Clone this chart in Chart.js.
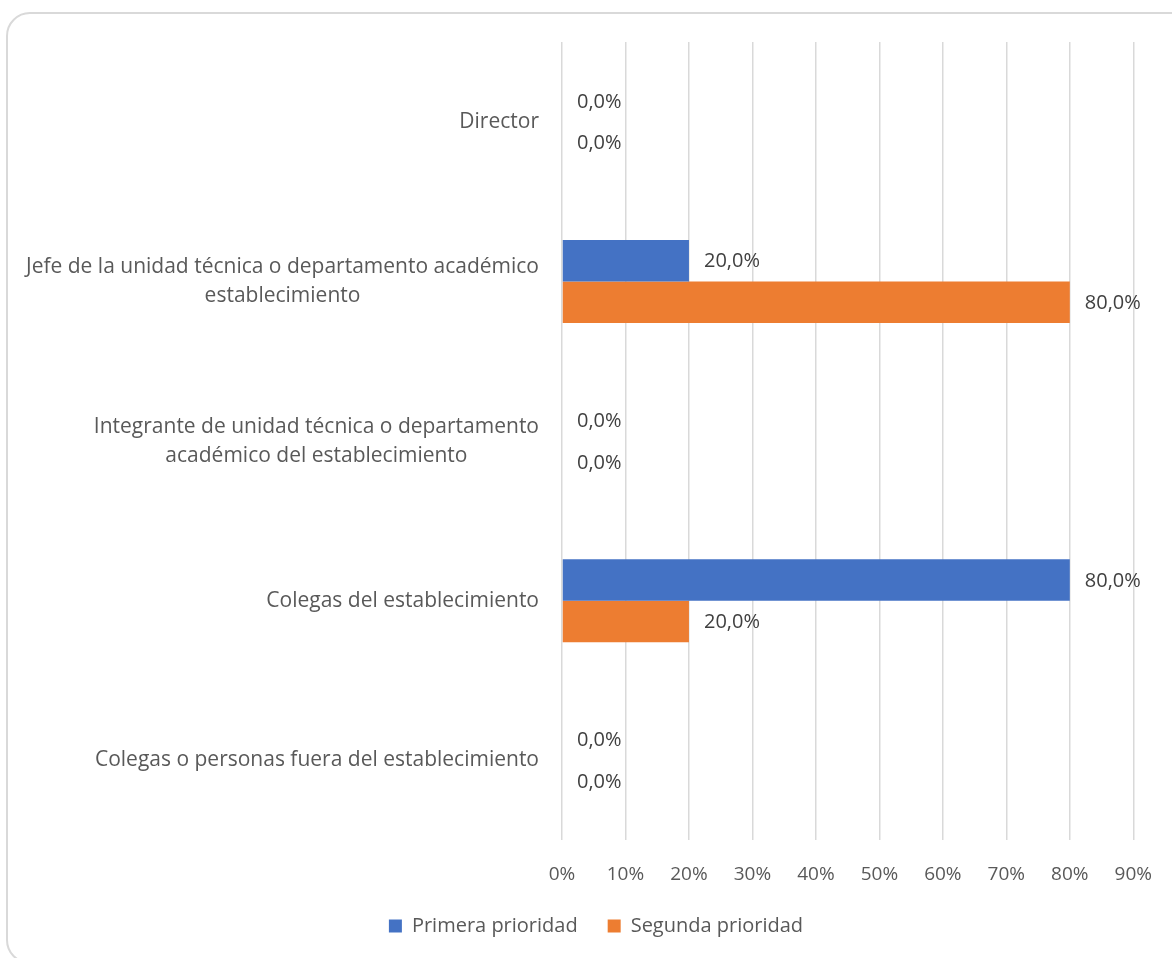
<!DOCTYPE html>
<html>
<head>
<meta charset="utf-8">
<script src="https://cdn.jsdelivr.net/npm/chart.js@4/dist/chart.umd.min.js"></script>
<style>
  html, body { margin: 0; padding: 0; background: #fff; overflow: hidden; width: 1172px; height: 958px; }
  #frame { position: absolute; left: 6px; top: 12px; width: 1200px; height: 948px; border: 2px solid #d9d9d9; border-radius: 24px; }
  #wrap { position: absolute; left: 0; top: 0; width: 1175px; height: 980px; }
</style>
</head>
<body>
<div id="frame"></div>
<div id="wrap"><canvas id="c" width="1175" height="980"></canvas></div>
<script>
const categories = [
  ["Director"],
  ["Jefe de la unidad técnica o departamento académico", "establecimiento"],
  ["Integrante de unidad técnica o departamento", "académico del establecimiento"],
  ["Colegas del establecimiento"],
  ["Colegas o personas fuera del establecimiento"]
];
const seriesNames = ["Primera prioridad", "Segunda prioridad"];
const primera = [0, 20, 0, 80, 0];
const segunda = [0, 80, 0, 20, 0];
const axisMax = 90;
const axisStep = 10;

const FONT = "'Open Sans', sans-serif";
const TEXT = "#595959";
const LABEL = "#404040";
const LEGEND_SHIFT = 23;

const yLabelsPlugin = {
  id: 'yLabels',
  afterDraw(chart) {
    const ctx = chart.ctx;
    const y = chart.scales.y;
    const right = chart.chartArea.left - 23;
    const lh = 29;
    ctx.save();
    ctx.font = "21px " + FONT;
    ctx.fillStyle = TEXT;
    ctx.textBaseline = 'middle';
    ctx.textAlign = 'center';
    categories.forEach((lines, i) => {
      const cy = y.getPixelForTick(i);
      const w = Math.max(...lines.map(l => ctx.measureText(l).width));
      const cx = right - w / 2;
      const y0 = cy - (lines.length - 1) * lh / 2;
      lines.forEach((l, j) => ctx.fillText(l, cx, y0 + j * lh));
    });
    ctx.restore();
  }
};

const dataLabelsPlugin = {
  id: 'dataLabels',
  afterDatasetsDraw(chart) {
    const ctx = chart.ctx;
    ctx.save();
    ctx.font = "20px " + FONT;
    ctx.fillStyle = LABEL;
    ctx.textBaseline = 'middle';
    ctx.textAlign = 'left';
    chart.data.datasets.forEach((ds, di) => {
      const meta = chart.getDatasetMeta(di);
      meta.data.forEach((el, i) => {
        const v = ds.data[i];
        const txt = v.toFixed(1).replace('.', ',') + '%';
        ctx.fillText(txt, el.x + 15, el.y + 1);
      });
    });
    ctx.restore();
  }
};

const legendShiftPlugin = {
  id: 'legendShift',
  afterLayout(chart) {
    if (chart.legend) {
      chart.legend.top -= LEGEND_SHIFT;
      chart.legend.bottom -= LEGEND_SHIFT;
    }
  }
};

new Chart(document.getElementById('c'), {
  type: 'bar',
  data: {
    labels: categories,
    datasets: [
      { label: seriesNames[0], data: primera, backgroundColor: '#4472C4', borderWidth: 0 },
      { label: seriesNames[1], data: segunda, backgroundColor: '#ED7D31', borderWidth: 0 }
    ]
  },
  options: {
    indexAxis: 'y',
    responsive: false,
    animation: false,
    layout: { padding: { left: 43, right: 26, top: 42, bottom: 11 } },
    datasets: { bar: { barPercentage: 1, categoryPercentage: 0.52 } },
    scales: {
      x: {
        min: 0, max: axisMax,
        ticks: { stepSize: axisStep, padding: 23, color: TEXT, font: { family: FONT, size: 19 }, callback: v => v + '%' },
        grid: { color: '#d9d9d9', lineWidth: 1.5, drawTicks: false },
        border: { display: false }
      },
      y: {
        ticks: { display: false },
        grid: { display: false, drawTicks: false },
        border: { display: false },
        afterFit(scale) { scale.width = 519; }
      }
    },
    plugins: {
      legend: {
        position: 'bottom',
        labels: { boxWidth: 13, boxHeight: 13, padding: 30, color: TEXT, font: { family: FONT, size: 20 } }
      },
      tooltip: { enabled: false }
    }
  },
  plugins: [yLabelsPlugin, dataLabelsPlugin, legendShiftPlugin]
});
</script>
</body>
</html>
